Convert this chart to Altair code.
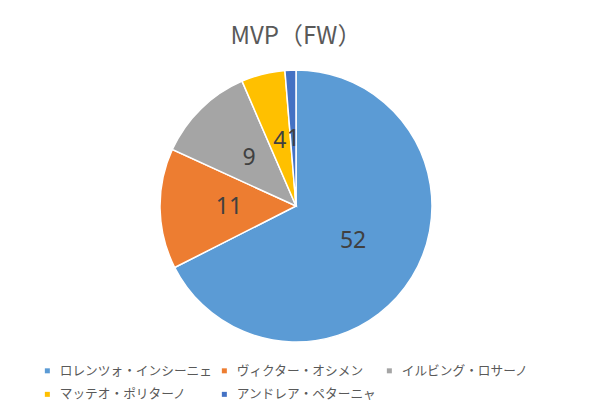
import altair as alt
import pandas as pd

players = ["ロレンツォ・インシーニェ", "ヴィクター・オシメン", "イルビング・ロサーノ",
           "マッテオ・ポリターノ", "アンドレア・ペターニャ"]
votes = [52, 11, 9, 4, 1]
colors = ["#5B9BD5", "#ED7D31", "#A5A5A5", "#FFC000", "#4472C4"]

df = pd.DataFrame({"player": players, "votes": votes, "rank": list(range(len(players)))})

base = alt.Chart(df).encode(
    theta=alt.Theta("votes:Q", stack=True),
    order=alt.Order("rank:Q", sort="ascending"),
)

pie = base.mark_arc(outerRadius=136, stroke="white", strokeWidth=1.5).encode(
    color=alt.Color(
        "player:N",
        scale=alt.Scale(domain=players, range=colors),
        sort=players,
        legend=alt.Legend(
            title=None,
            orient="none",
            direction="horizontal",
            legendX=33,
            legendY=356,
            columns=3,
            gridAlign="each",
            symbolType="square",
            symbolSize=25,
            symbolStrokeWidth=0,
            labelFontSize=12.7,
            labelFont="Noto Sans CJK JP",
            labelColor="#595959",
            labelOffset=6,
            labelLimit=400,
            columnPadding=6,
            rowPadding=10,
            padding=0,
        ),
    )
)

labels = base.mark_text(radius=67, fontSize=23, color="#404040", font="Noto Sans").encode(
    text="votes:Q"
)

chart = (pie + labels).properties(
    width=576,
    height=396,
    padding=0,
    autosize=alt.AutoSizeParams(type="none"),
    title=alt.TitleParams(
        text="MVP（FW）",
        font="Noto Sans CJK JP",
        fontSize=24,
        fontWeight="normal",
        color="#595959",
        anchor="middle",
        frame="group",
        offset=-41,
    ),
).configure_view(stroke=None)

chart.save("out.html", embed_options={"renderer": "svg", "actions": False})
